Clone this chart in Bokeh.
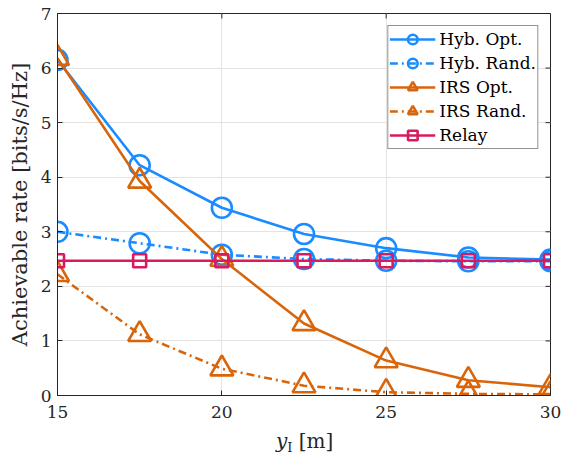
import math
from bokeh.plotting import figure
from bokeh.layouts import column
from bokeh.models import Range1d, FixedTicker, Legend, LegendItem, Div
from bokeh.embed import file_html
from bokeh.resources import INLINE

# ---- data ----
y_I = [15, 17.5, 20, 22.5, 25, 27.5, 30]
hyb_opt = [6.15, 4.22, 3.44, 2.96, 2.70, 2.53, 2.49]
hyb_rand = [3.00, 2.79, 2.58, 2.50, 2.47, 2.46, 2.46]
irs_opt = [6.18, 3.93, 2.50, 1.32, 0.64, 0.28, 0.15]
irs_rand = [2.22, 1.12, 0.49, 0.18, 0.06, 0.03, 0.02]
relay = [2.47, 2.47, 2.47, 2.47, 2.47, 2.47, 2.47]
x_ticks = [15, 20, 25, 30]
y_ticks = [0, 1, 2, 3, 4, 5, 6, 7]
labels = ["Hyb. Opt.", "Hyb. Rand.", "IRS Opt.", "IRS Rand.", "Relay"]

BLUE = "#1A8CFF"
ORANGE = "#D9650B"
RED = "#D81B60"
FONT = "DejaVu Serif"
AX = "#262626"
X0, X1 = 15, 30
Y0, Y1 = 0, 7

p = figure(width=565, height=424, output_backend="svg", toolbar_location=None,
           x_range=Range1d(X0, X1), y_range=Range1d(Y0, Y1),
           min_border_left=57, min_border_right=15, min_border_top=13, min_border_bottom=29)
p.background_fill_color = "white"
p.border_fill_color = "white"
p.outline_line_color = AX
p.outline_line_width = 1

for ax, ticks in ((p.xaxis[0], x_ticks), (p.yaxis[0], y_ticks)):
    ax.ticker = FixedTicker(ticks=ticks)
    ax.major_tick_in = 5
    ax.major_tick_out = 0
    ax.minor_tick_line_color = None
    ax.axis_line_color = AX
    ax.major_tick_line_color = AX
    ax.major_label_text_font = FONT
    ax.major_label_text_font_size = "17px"
    ax.major_label_text_color = "#262626"

p.xaxis.major_label_standoff = 10
p.yaxis.major_label_standoff = 6
p.yaxis.axis_label = "Achievable rate [bits/s/Hz]"
p.yaxis.axis_label_text_font = FONT
p.yaxis.axis_label_text_font_size = "21px"
p.yaxis.axis_label_text_font_style = "normal"
p.yaxis.axis_label_text_color = "#262626"
p.yaxis.axis_label_standoff = 6

# tick marks on the right and top edges of the box
p.ray(x=[X1] * len(y_ticks), y=y_ticks, length=5, length_units="screen", angle=math.pi,
      line_color=AX, line_width=1)
p.ray(x=x_ticks, y=[Y1] * len(x_ticks), length=5, length_units="screen", angle=-math.pi / 2,
      line_color=AX, line_width=1)

p.xgrid.ticker = FixedTicker(ticks=x_ticks)
p.ygrid.ticker = FixedTicker(ticks=y_ticks)
p.grid.grid_line_color = "#E3E3E3"
p.grid.grid_line_width = 1

LW = 2.6
series = [
    (hyb_opt, BLUE, "solid", "circle", 20),
    (hyb_rand, BLUE, "8 4 2 4", "circle", 20),
    (irs_opt, ORANGE, "solid", "triangle", 23),
    (irs_rand, ORANGE, "8 4 2 4", "triangle", 23),
    (relay, RED, "solid", "square", 13),
]
items = []
for (vals, col, dash, mk, sz), lab in zip(series, labels):
    l = p.line(y_I, vals, line_color=col, line_width=LW, line_dash=dash)
    s = p.scatter(y_I, vals, marker=mk, size=sz, fill_color=None, line_color=col, line_width=LW)
    items.append(LegendItem(label=lab, renderers=[l, s]))

leg = Legend(items=items, location="top_right", margin=12, padding=1, spacing=0,
             glyph_width=46, glyph_height=24, label_height=24, label_standoff=4,
             label_text_font=FONT, label_text_font_size="17px", label_text_color="black",
             border_line_color=AX, border_line_width=1, background_fill_alpha=1)
p.add_layout(leg)

# x-axis label  y_I [m]  (italic y with roman subscript I)
xlabel = Div(
    text=('<span style="display:inline-block; margin-left:271px; margin-top:0px; line-height:24px; '
          'font-family:\'DejaVu Serif\'; font-size:20px; color:#262626; white-space:nowrap;">'
          '<i>y</i><span style="font-size:13px; position:relative; top:4px;">I</span>'
          '&nbsp;[m]</span>'),
    width=565, height=33)

layout = column(p, xlabel, spacing=0)
open("out.html", "w").write(file_html(layout, INLINE))
